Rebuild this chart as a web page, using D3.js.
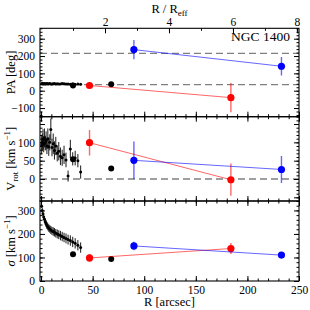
<!DOCTYPE html>
<html>
<head>
<meta charset="utf-8">
<script src="https://cdn.jsdelivr.net/npm/d3@7"></script>
<style>
body { margin: 0; background: #fff; }
svg text { font-family: "Liberation Serif", "DejaVu Serif", serif; fill: #000; }
</style>
</head>
<body>
<div id="chart"></div>
<script>
// effective radius used for the top axis (arcsec)
var reff = 31;

// inner kinematics (small black points)
var rIn = [0.6, 1.2, 1.9, 2.6, 3.3, 4.1, 4.9, 5.7, 6.6, 7.5, 8.5, 9.5, 10.6, 11.8, 13.0, 14.3, 15.7, 17.2, 18.8, 20.5, 22.3, 24.2, 26.2, 28.4, 30.7, 33.1, 35.7, 38.4];
var paIn = [40, 41, 39, 40, 42, 39, 40, 41, 39, 40, 41, 39, 38, 40, 41, 39, 40, 38, 39, 41, 40, 38, 39, 37, 38, 36, 38, 37];
var paInErr = [3, 3, 3, 3, 3, 3, 3, 3, 3, 3, 3, 3, 4, 4, 4, 4, 4, 4, 4, 4, 4, 5, 5, 5, 5, 5, 5, 5];
var vIn = [92, 100, 108, 95, 112, 98, 105, 90, 110, 88, 100, 135, 86, 96, 78, 90, 70, 76, 62, 58, 66, 52, 8, 82, 55, 57, 50, 19];
var vInErr = [25, 24, 28, 22, 26, 20, 25, 22, 28, 25, 22, 30, 24, 28, 25, 25, 22, 25, 24, 22, 25, 20, 15, 25, 18, 20, 18, 18];
var sigIn = [318, 300, 286, 272, 262, 252, 244, 236, 230, 225, 221, 217, 213, 210, 207, 203, 200, 197, 193, 189, 185, 181, 176, 172, 166, 160, 152, 142];
var sigInErr = [8, 10, 10, 12, 12, 14, 14, 15, 15, 16, 16, 17, 17, 18, 18, 18, 19, 19, 20, 20, 20, 21, 21, 22, 22, 22, 22, 22];

// two larger black points
var rMid = [31, 68];
var paMid = [30, 37];
var vMid = [54, 29];
var sigMid = [114, 93];

// red points
var rRed = [47, 184];
var paRed = [30, -40];
var paRedErr = [8, 85];
var vRed = [99, -2];
var vRedErr = [35, 44];
var sigRed = [98, 138];
var sigRedErr = [16, 23];

// blue points
var rBlue = [90, 233];
var paBlue = [237, 141];
var paBlueErr = [55, 54];
var vBlue = [51, 26];
var vBlueErr = [51, 37];
var sigBlue = [149, 110];
var sigBlueErr = [18, 11];

// dashed reference lines
var paDash = [35, 215];
var vDash = [0];

// tick values
var xMajor = [0, 50, 100, 150, 200, 250];
var topMajor = [2, 4, 6, 8];
var paMajor = [-100, 0, 100, 200, 300];
var vMajor = [-50, 0, 50, 100, 150];
var vLabels = [0, 50, 100];
var sigMajor = [0, 100, 200, 300];

var width = 310, height = 310,
    left = 40, right = 299;

var svg = d3.select("#chart").append("svg")
    .attr("width", width)
    .attr("height", height);

var x = d3.scaleLinear().domain([-1, 250]).range([left, right]);
var xTop = d3.scaleLinear().domain([-1 / reff, 250 / reff]).range([left, right]);

var panels = [
    {top: 28.3, bottom: 116.7, y: d3.scaleLinear().domain([-150, 360]).range([116.7, 28.3]),
     major: paMajor, minor: d3.range(-140, 361, 20), labels: paMajor,
     inn: paIn, innErr: paInErr, mid: paMid, red: paRed, redErr: paRedErr, blue: paBlue, blueErr: paBlueErr, dash: paDash},
    {top: 116.7, bottom: 201, y: d3.scaleLinear().domain([-60, 170]).range([201, 116.7]),
     major: vMajor, minor: d3.range(-60, 171, 10), labels: vLabels,
     inn: vIn, innErr: vInErr, mid: vMid, red: vRed, redErr: vRedErr, blue: vBlue, blueErr: vBlueErr, dash: vDash},
    {top: 201, bottom: 281, y: d3.scaleLinear().domain([0, 340]).range([281, 201]),
     major: sigMajor, minor: d3.range(0, 341, 20), labels: sigMajor,
     inn: sigIn, innErr: sigInErr, mid: sigMid, red: sigRed, redErr: sigRedErr, blue: sigBlue, blueErr: sigBlueErr, dash: []}
];

function styleAxis(a, fs) {
    a.select(".domain").remove();
    a.attr("font-family", null).attr("font-size", null);
    a.selectAll("line").attr("stroke", "#000").attr("stroke-width", 1);
    a.selectAll("text").attr("font-size", fs).attr("fill", "#000");
}

function addAxis(gen, tx, ty, values, size, fmt, pad) {
    var a = svg.append("g")
        .attr("transform", "translate(" + tx + "," + ty + ")")
        .call(gen.tickValues(values).tickSize(-size).tickPadding(pad || 3).tickFormat(fmt));
    styleAxis(a, 11.5);
    return a;
}

var fmtD = d3.format("d");
var none = function(){ return ""; };

function drawSeries(g, y, rs, vals, errs, color, radius, lineOn) {
    var pts = rs.map(function(r, i){ return {r: r, v: vals[i], e: errs ? errs[i] : 0}; });
    if (lineOn) {
        g.append("path")
            .datum(pts)
            .attr("fill", "none")
            .attr("stroke", color)
            .attr("stroke-opacity", 0.6)
            .attr("stroke-width", 1)
            .attr("d", d3.line().x(function(d){ return x(d.r); }).y(function(d){ return y(d.v); }));
    }
    if (errs) {
        g.selectAll(null)
            .data(pts)
            .enter()
            .append("line")
            .attr("x1", function(d){ return x(d.r); })
            .attr("x2", function(d){ return x(d.r); })
            .attr("y1", function(d){ return y(d.v - d.e); })
            .attr("y2", function(d){ return y(d.v + d.e); })
            .attr("stroke", color)
            .attr("stroke-opacity", lineOn ? 0.6 : 1)
            .attr("stroke-width", lineOn ? 1.4 : 0.9);
    }
    g.selectAll(null)
        .data(pts)
        .enter()
        .append("circle")
        .attr("cx", function(d){ return x(d.r); })
        .attr("cy", function(d){ return y(d.v); })
        .attr("r", radius)
        .attr("fill", color);
}

panels.forEach(function(p, idx){
    var y = p.y;

    var clipId = "clip" + idx;
    svg.append("clipPath").attr("id", clipId)
        .append("rect")
        .attr("x", left).attr("y", p.top)
        .attr("width", right - left).attr("height", p.bottom - p.top);

    var g = svg.append("g").attr("clip-path", "url(#" + clipId + ")");

    // dashed reference lines
    g.selectAll(null)
        .data(p.dash)
        .enter()
        .append("line")
        .attr("x1", left).attr("x2", right)
        .attr("y1", function(d){ return y(d); })
        .attr("y2", function(d){ return y(d); })
        .attr("stroke", "#808080")
        .attr("stroke-width", 1.3)
        .attr("stroke-dasharray", "7,4");

    drawSeries(g, y, rIn, p.inn, p.innErr, "#000", 1.5, false);
    drawSeries(g, y, rMid, p.mid, null, "#000", 3, false);
    drawSeries(g, y, rRed, p.red, p.redErr, "#ff0000", 3.6, true);
    drawSeries(g, y, rBlue, p.blue, p.blueErr, "#0000ff", 3.6, true);

    // left axis: major with labels, minor without
    addAxis(d3.axisLeft(y), left, 0, p.major, 5, function(d){
        return p.labels.indexOf(d) >= 0 ? fmtD(d) : "";
    }, 5);
    addAxis(d3.axisLeft(y), left, 0, p.minor, 2.5, none);
    addAxis(d3.axisRight(y), right, 0, p.major, 5, none);
    addAxis(d3.axisRight(y), right, 0, p.minor, 2.5, none);

    // bottom and top x ticks of each panel
    addAxis(d3.axisBottom(x), 0, p.bottom, xMajor, 5, idx == 2 ? fmtD : none, 5);
    addAxis(d3.axisBottom(x), 0, p.bottom, d3.range(0, 251, 10), 2.5, none);
    if (idx == 0) {
        addAxis(d3.axisTop(xTop), 0, p.top, topMajor, 5, fmtD, 2);
        addAxis(d3.axisTop(xTop), 0, p.top, d3.range(1, 9, 1), 2.5, none);
    } else {
        addAxis(d3.axisTop(x), 0, p.top, xMajor, 5, none);
        addAxis(d3.axisTop(x), 0, p.top, d3.range(0, 251, 10), 2.5, none);
    }

    // frame
    svg.append("rect")
        .attr("x", left).attr("y", p.top)
        .attr("width", right - left).attr("height", p.bottom - p.top)
        .attr("fill", "none")
        .attr("stroke", "#000")
        .attr("stroke-width", 1.1);
});

// axis titles
function yTitle(cy, build) {
    var t = svg.append("text")
        .attr("transform", "translate(14.5," + cy + ") rotate(-90)")
        .attr("text-anchor", "middle")
        .attr("font-size", 12.5);
    build(t);
}

yTitle((panels[0].top + panels[0].bottom) / 2, function(t){
    t.text("PA [deg]");
});
yTitle((panels[1].top + panels[1].bottom) / 2, function(t){
    t.append("tspan").text("V");
    t.append("tspan").attr("font-size", 9).attr("dy", 3).text("rot");
    t.append("tspan").attr("dy", -3).text(" [km s");
    t.append("tspan").attr("font-size", 9).attr("dy", -5).text("−1");
    t.append("tspan").attr("dy", 5).text("]");
});
yTitle((panels[2].top + panels[2].bottom) / 2, function(t){
    t.append("tspan").attr("font-style", "italic").text("σ");
    t.append("tspan").text(" [km s");
    t.append("tspan").attr("font-size", 9).attr("dy", -5).text("−1");
    t.append("tspan").attr("dy", 5).text("]");
});

svg.append("text")
    .attr("x", (left + right) / 2)
    .attr("y", 305.5)
    .attr("text-anchor", "middle")
    .attr("font-size", 12.5)
    .text("R [arcsec]");

var tt = svg.append("text")
    .attr("x", (left + right) / 2)
    .attr("y", 13)
    .attr("text-anchor", "middle")
    .attr("font-size", 12.5);
tt.append("tspan").text("R / R");
tt.append("tspan").attr("font-size", 9).attr("dy", 3).text("eff");

svg.append("text")
    .attr("x", 290)
    .attr("y", 41)
    .attr("text-anchor", "end")
    .attr("font-size", 13.5)
    .text("NGC 1400");
</script>
</body>
</html>
